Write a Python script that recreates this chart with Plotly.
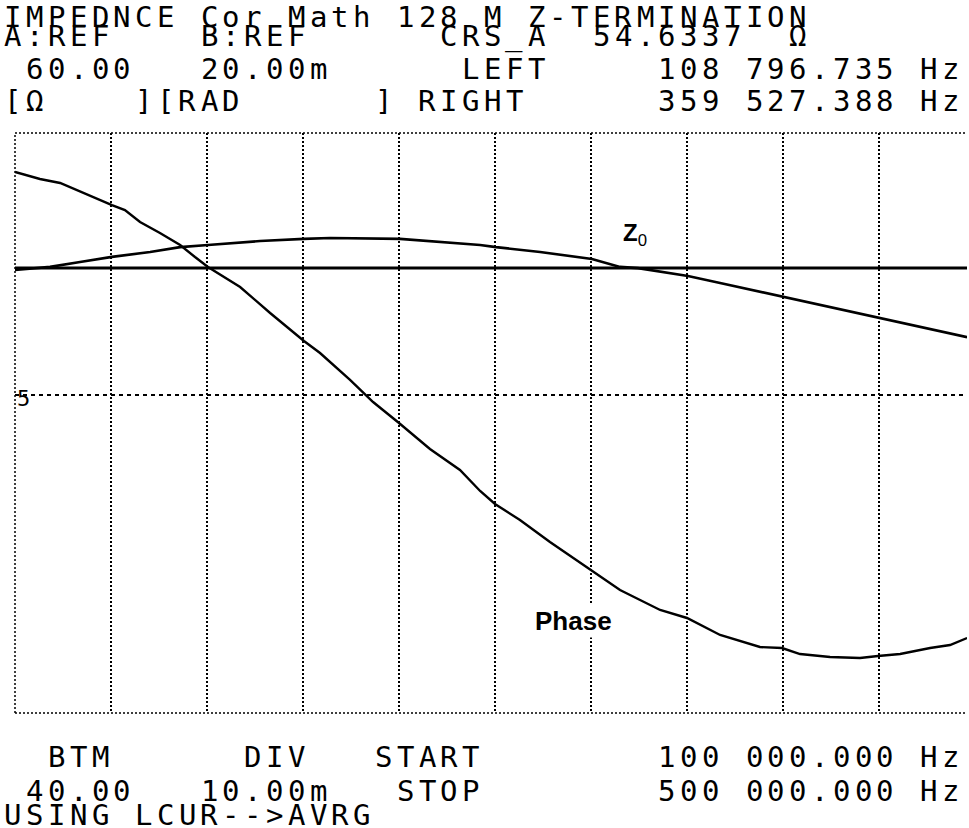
import plotly.graph_objects as go

# ---- data (frequency in kHz) ----
freq_z_khz = [100.0, 114.6, 127.1, 140.4, 156.3, 168.8, 180.4, 202.1, 220.4, 231.3,
              260.4, 272.9, 293.8, 300.4, 318.8, 340.4, 352.1, 359.6, 380.4, 393.8,
              420.4, 439.6, 460.4, 477.1, 491.7, 496.7]
z0_ohm = [54.57, 54.67, 54.83, 55.00, 55.16, 55.32, 55.39, 55.52, 55.59, 55.62,
          55.59, 55.52, 55.39, 55.32, 55.16, 54.93, 54.67, 54.63, 54.37, 54.14,
          53.68, 53.35, 52.99, 52.69, 52.43, 52.36]

freq_phase_khz = [100.0, 110.4, 118.8, 131.3, 140.4, 145.8, 152.1, 160.4, 168.8, 175.0,
                  180.4, 193.8, 206.3, 220.4, 227.1, 239.6, 249.2, 260.0, 272.9, 285.4,
                  293.8, 300.0, 310.4, 322.9, 340.0, 352.1, 368.8, 380.0, 393.8, 410.4,
                  419.6, 427.1, 439.6, 452.1, 459.6, 468.8, 481.3, 489.6, 496.7]
phase_mrad = [15.97, 15.24, 14.83, 13.48, 12.55, 12.03, 10.79, 9.66, 8.41, 7.17,
              6.14, 4.07, 1.38, -1.52, -2.76, -5.55, -7.83, -10.00, -12.69, -14.86,
              -17.03, -18.38, -20.03, -22.31, -25.21, -27.28, -29.34, -30.17, -31.93, -33.17,
              -33.28, -33.90, -34.21, -34.31, -34.10, -33.90, -33.28, -32.97, -32.24]

cursor_level_ohm = 54.6337
marker_level_ohm = 50.46

header_rows = [
    [(0, "IMPEDNCE"), (9, "Cor"), (13, "Math"), (18, "128"), (22, "M"), (24, "Z-TERMINATION")],
    [(0, "A:REF"), (9, "B:REF"), (20, "CRS_A"), (27, "54.6337"), (36, "Ω")],
    [(1, "60.00"), (9, "20.00m"), (21, "LEFT"), (30, "108 796.735 Hz")],
    [(0, "[Ω"), (6, "][RAD"), (17, "] RIGHT"), (30, "359 527.388 Hz")],
]
footer_rows = [
    [(2, "BTM"), (11, "DIV"), (17, "START"), (30, "100 000.000 Hz")],
    [(1, "40.00"), (9, "10.00m"), (18, "STOP"), (30, "500 000.000 Hz")],
    [(0, "USING LCUR-->AVRG")],
]
header_y_px = [17, 36, 69, 101]
footer_y_px = [757, 791, 815]

# ---- layout geometry ----
W, H = 969, 828
L, R, T, B = 15, 2, 133, 115
PW, PH = W - L - R, H - T - B
PITCH = 21.8
ORIGIN = 2
FONT = "DejaVu Sans Mono"


def px_to_paper(xp, yp):
    return (xp - L) / PW, (H - B - yp) / PH


fig = go.Figure()
fig.add_trace(go.Scatter(x=freq_z_khz, y=z0_ohm, mode="lines",
                         line=dict(color="black", width=2.6), yaxis="y", hoverinfo="skip"))
fig.add_trace(go.Scatter(x=freq_phase_khz, y=phase_mrad, mode="lines",
                         line=dict(color="black", width=2.4), yaxis="y2", hoverinfo="skip"))

annotations = []
for rows, ys in ((header_rows, header_y_px), (footer_rows, footer_y_px)):
    for row, yp in zip(rows, ys):
        for col, text in row:
            for i, ch in enumerate(text):
                if ch == " ":
                    continue
                xp = ORIGIN + (col + i) * PITCH + PITCH / 2
                xx, yy = px_to_paper(xp, yp)
                annotations.append(dict(x=xx, y=yy, xref="paper", yref="paper", text=ch,
                                        showarrow=False, xanchor="center", yanchor="middle",
                                        font=dict(family=FONT, size=29, color="black")))

# marker label "5"
xx, yy = px_to_paper(23, 398)
annotations.append(dict(x=xx, y=yy, xref="paper", yref="paper", text="5", showarrow=False,
                        xanchor="center", yanchor="middle",
                        font=dict(family=FONT, size=22, color="black")))
# trace labels
annotations.append(dict(x=332.5, y=-30.5, xref="x", yref="y2", text="<b>Phase</b>", showarrow=False,
                        xanchor="center", yanchor="middle", bgcolor="white",
                        font=dict(family="Liberation Sans", size=26, color="black")))
annotations.append(dict(x=358.3, y=55.75, xref="x", yref="y", text="<b>Z</b><sub>0</sub>",
                        showarrow=False, xanchor="center", yanchor="middle",
                        font=dict(family="Liberation Sans", size=24, color="black")))

shapes = [
    dict(type="line", xref="paper", yref="y", x0=0, x1=1, y0=cursor_level_ohm, y1=cursor_level_ohm,
         line=dict(color="black", width=3)),
    dict(type="line", xref="paper", yref="y", x0=0, x1=1, y0=marker_level_ohm, y1=marker_level_ohm,
         line=dict(color="black", width=2, dash="4px,4px")),
    dict(type="line", xref="paper", yref="paper", x0=0, x1=1, y0=1, y1=1,
         line=dict(color="black", width=1.5, dash="2px,2px")),
    dict(type="line", xref="paper", yref="paper", x0=0, x1=1, y0=0, y1=0,
         line=dict(color="black", width=1.5, dash="2px,2px")),
    dict(type="line", xref="paper", yref="paper", x0=0, x1=0, y0=0, y1=1,
         line=dict(color="black", width=1.5, dash="2px,2px")),
]

fig.update_layout(
    width=W, height=H,
    margin=dict(l=L, r=R, t=T, b=B, pad=0),
    paper_bgcolor="white", plot_bgcolor="white",
    showlegend=False,
    xaxis=dict(range=[100, 496.67], tick0=100, dtick=40, showgrid=True, gridcolor="black",
               griddash="2px,2px", gridwidth=1.6, showticklabels=False, ticks="", zeroline=False,
               showline=False),
    yaxis=dict(range=[40, 59.073], showgrid=False, showticklabels=False, ticks="",
               zeroline=False, showline=False),
    yaxis2=dict(range=[-40, 20], overlaying="y", showgrid=False, showticklabels=False,
                ticks="", zeroline=False, showline=False),
    annotations=annotations,
    shapes=shapes,
)

fig.write_html("out.html", config={"displayModeBar": False},
               post_script="document.body.style.margin='0';document.body.style.overflow='hidden';")
